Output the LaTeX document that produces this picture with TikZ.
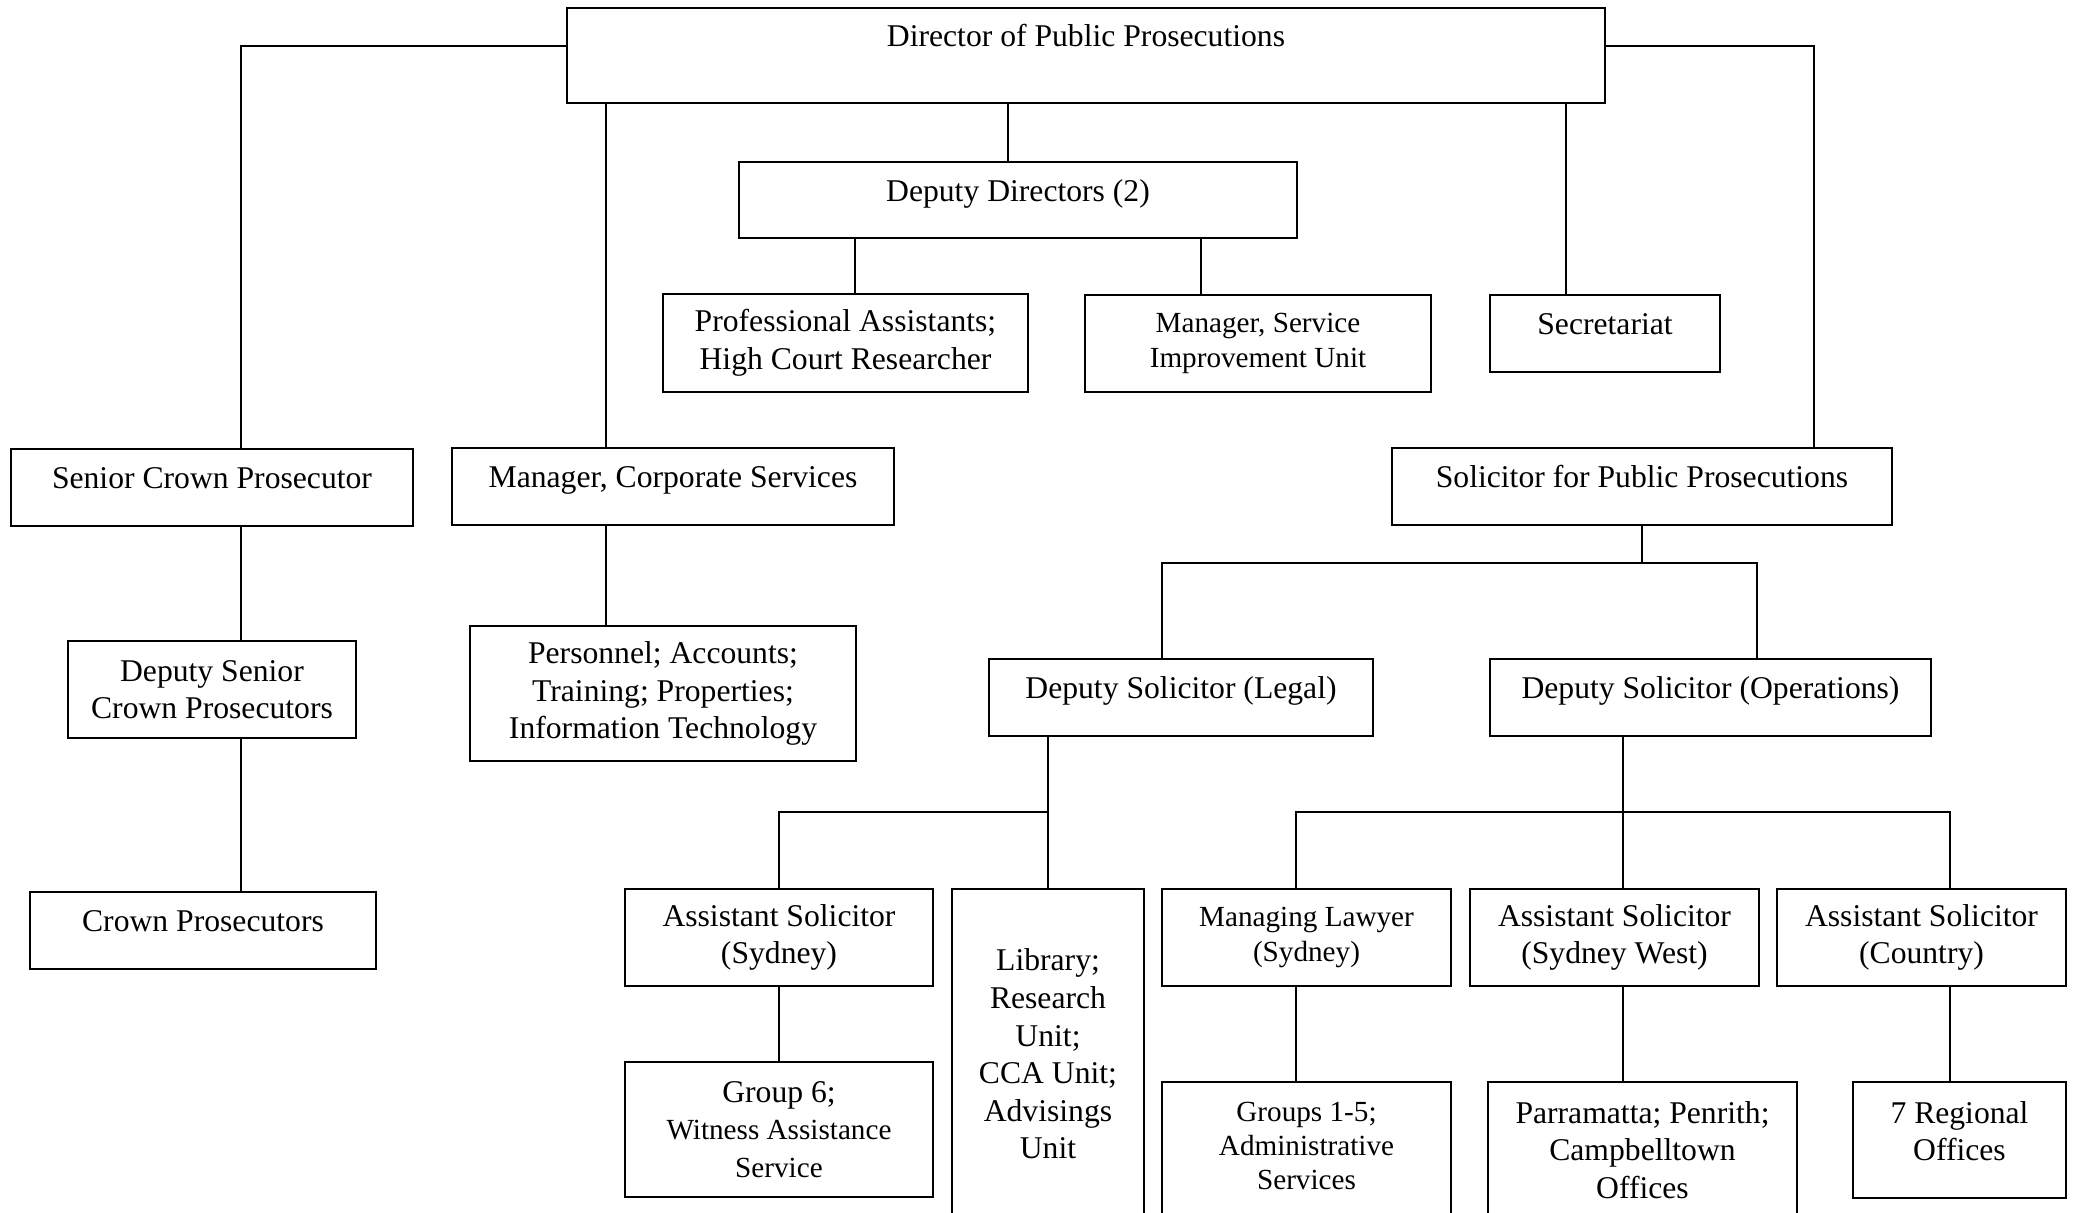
\documentclass[tikz,border=0pt]{standalone}
\usepackage{fontspec}
\setmainfont{Liberation Serif}
\usetikzlibrary{positioning,calc}
\newcommand\orgnormal{\fontsize{9pt}{10.7pt}\selectfont}
\newcommand\orgsmall{\fontsize{8.3pt}{9.8pt}\selectfont}

\begin{document}
\begin{tikzpicture}[x=0.01cm, y=-0.01cm,
    unit/.style={rectangle, draw, line width=0.6pt, inner sep=0pt, align=center, font=\orgnormal},
    oneline/.style={unit, text height=6.5pt, text depth=5.7pt},
    minor/.style={unit, font=\orgsmall},
    frame/.style={rectangle, draw, line width=0.6pt, inner sep=0pt, anchor=north},
    link/.style={line width=0.45pt}
]
    \useasboundingbox (0,0) rectangle (2078,1213);

    % top level
    \node[oneline, text depth=11.7pt, minimum width=103.8mm, minimum height=9.5mm] (dpp) at (1086,55.5) {Director of Public Prosecutions};
    \node[oneline, minimum width=55.8mm, minimum height=7.6mm] (dd) at (1018,200) {Deputy Directors (2)};
    \node[unit, minimum width=36.5mm, minimum height=9.8mm] (pa) at (845.5,343) {Professional Assistants;\\High Court Researcher};
    \node[minor, minimum width=34.6mm, minimum height=9.7mm] (siu) at (1258,343.5) {Manager, Service\\Improvement Unit};
    \node[oneline, minimum width=23mm, minimum height=7.7mm] (sec) at (1605,333.5) {Secretariat};

    % second level
    \node[oneline, minimum width=40.2mm, minimum height=7.7mm] (scp) at (212,487.5) {Senior Crown Prosecutor};
    \node[oneline, minimum width=44.2mm, minimum height=7.7mm] (mcs) at (673,486.5) {Manager, Corporate Services};
    \node[oneline, minimum width=50mm, minimum height=7.7mm] (spp) at (1642,486.5) {Solicitor for Public Prosecutions};

    \node[unit, minimum width=28.8mm, minimum height=9.7mm] (dscp) at (212,689.5) {Deputy Senior\\Crown Prosecutors};
    \node[oneline, minimum width=34.6mm, minimum height=7.7mm] (cp) at (203,930.5) {Crown Prosecutors};
    \node[unit, minimum width=38.6mm, minimum height=13.5mm] (pers) at (663,693.5) {Personnel; Accounts;\\Training; Properties;\\Information Technology};

    % solicitor branch
    \node[oneline, minimum width=38.4mm, minimum height=7.7mm] (dsl) at (1181,697.5) {Deputy Solicitor (Legal)};
    \node[oneline, minimum width=44.1mm, minimum height=7.7mm] (dso) at (1710.5,697.5) {Deputy Solicitor (Operations)};

    \node[unit, minimum width=30.8mm, minimum height=9.7mm] (ass) at (779,937.5) {Assistant Solicitor\\(Sydney)};
    \node[unit, minimum width=19.2mm, minimum height=33mm] (lib) at (1048,1054) {Library;\\Research\\Unit;\\CCA Unit;\\Advisings\\Unit};
    \node[minor, minimum width=28.9mm, minimum height=9.7mm] (ml) at (1306.5,937.5) {Managing Lawyer\\(Sydney)};
    \node[unit, minimum width=28.9mm, minimum height=9.7mm] (assw) at (1614.5,937.5) {Assistant Solicitor\\(Sydney West)};
    \node[unit, minimum width=28.9mm, minimum height=9.7mm] (asc) at (1921.5,937.5) {Assistant Solicitor\\(Country)};

    \node[unit, minimum width=30.8mm, minimum height=13.5mm] (g6) at (779,1129.5) {Group 6;\\{\orgsmall Witness Assistance}\\{\orgsmall Service}};
    \node[frame, minimum width=28.9mm, minimum height=20mm] (grp15) at (1306.5,1081) {};
    \node[font=\orgsmall, align=center, inner sep=0pt] (grp15txt) at (1306.5,1146) {Groups 1-5;\\Administrative\\Services};
    \node[frame, minimum width=30.9mm, minimum height=20mm] (parra) at (1642.5,1081) {};
    \node[font=\orgnormal, align=center, inner sep=0pt] (parratxt) at (1642.5,1150) {Parramatta; Penrith;\\Campbelltown\\Offices};
    \node[frame, minimum width=21.3mm, minimum height=11.6mm] (reg) at (1959.5,1081) {};
    \node[font=\orgnormal, align=center, inner sep=0pt] (regtxt) at (1959.5,1131) {7 Regional\\Offices};

    % connector positions
    \coordinate (topbar) at (0,46);
    \coordinate (solbar) at (0,563);
    \coordinate (legbar) at (0,812);
    \coordinate (xcrown) at (241,0);
    \coordinate (xcorp) at (606,0);
    \coordinate (xdd) at (1008,0);
    \coordinate (xsec) at (1566,0);
    \coordinate (xsol) at (1814,0);
    \coordinate (xpa) at (855,0);
    \coordinate (xsiu) at (1201,0);
    \coordinate (xlegal) at (1162,0);
    \coordinate (xops) at (1623,0);
    \coordinate (xopsleft) at (1757,0);
    \coordinate (xml) at (1296,0);
    \coordinate (xcty) at (1950,0);

    \draw[link] (dpp.west |- topbar) -| (scp.north -| xcrown);
    \draw[link] (dpp.east |- topbar) -| (spp.north -| xsol);
    \draw[link] (dpp.south -| xcorp) -- (mcs.north -| xcorp);
    \draw[link] (dpp.south -| xdd) -- (dd.north -| xdd);
    \draw[link] (dpp.south -| xsec) -- (sec.north -| xsec);
    \draw[link] (dd.south -| xpa) -- (pa.north -| xpa);
    \draw[link] (dd.south -| xsiu) -- (siu.north -| xsiu);

    \draw[link] (scp.south -| xcrown) -- (dscp.north -| xcrown);
    \draw[link] (dscp.south -| xcrown) -- (cp.north -| xcrown);
    \draw[link] (mcs.south -| xcorp) -- (pers.north -| xcorp);

    \draw[link] (spp.south) -- (spp.south |- solbar);
    \draw[link] (dsl.north -| xlegal) |- (spp.south |- solbar) -| (dso.north -| xopsleft);

    \draw[link] (dsl.south -| lib.north) -- (lib.north);
    \draw[link] (ass.north) |- (lib.north |- legbar);
    \draw[link] (dso.south -| xops) -- (assw.north -| xops);
    \draw[link] (ml.north -| xml) |- (xops |- legbar) -| (asc.north -| xcty);

    \draw[link] (ass.south) -- (g6.north);
    \draw[link] (ml.south -| xml) -- (grp15.north -| xml);
    \draw[link] (assw.south -| xops) -- (parra.north -| xops);
    \draw[link] (asc.south -| xcty) -- (reg.north -| xcty);
\end{tikzpicture}
\end{document}
